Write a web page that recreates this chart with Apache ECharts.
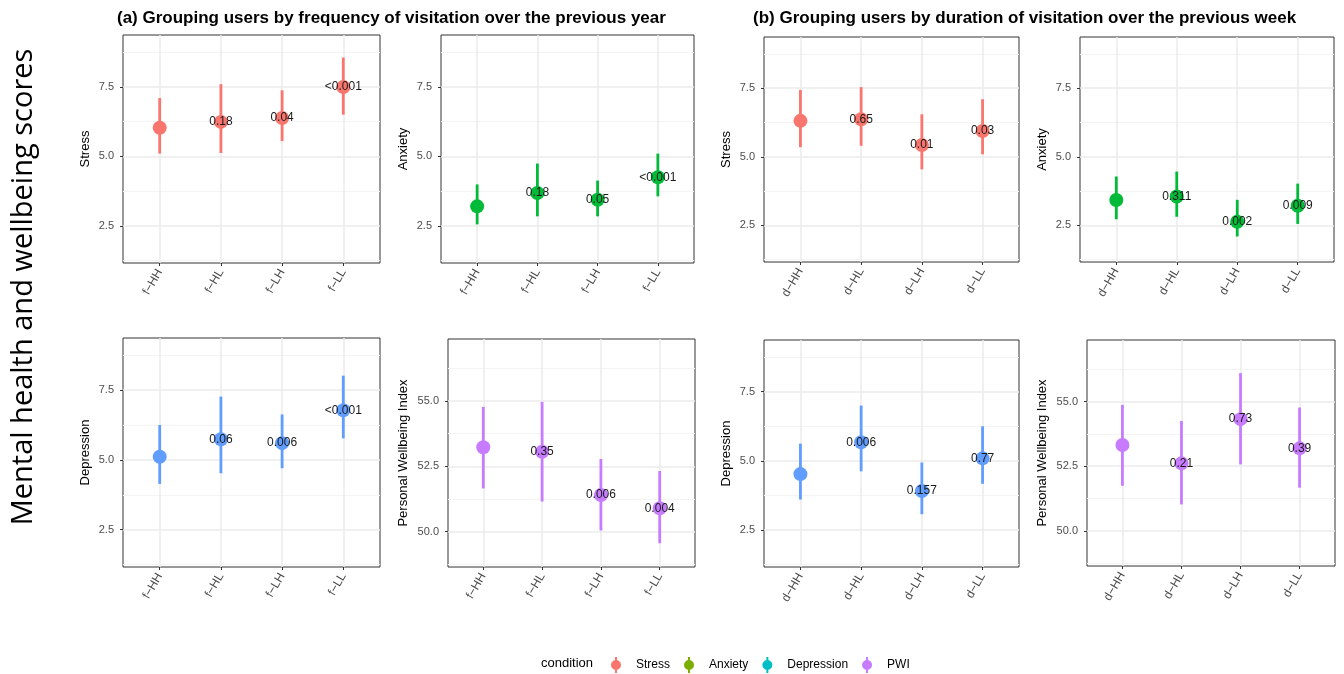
<!DOCTYPE html>
<html><head><meta charset="utf-8">
<script src="https://cdn.jsdelivr.net/npm/echarts@6/dist/echarts.min.js"></script>
<style>html,body{margin:0;padding:0;background:#fff}#c{width:1344px;height:674px}</style>
</head><body><div id="c"></div>
<script>
// ---------- data ----------
const freqCategories = ['f\u2212HH', 'f\u2212HL', 'f\u2212LH', 'f\u2212LL'];
const durCategories  = ['d\u2212HH', 'd\u2212HL', 'd\u2212LH', 'd\u2212LL'];
const conditions = ['Stress', 'Anxiety', 'Depression', 'PWI'];
const axisTitles = ['Stress', 'Anxiety', 'Depression', 'Personal Wellbeing Index'];

const freqStressMean = [6.03, 6.24, 6.38, 7.50];
const freqStressLow  = [5.10, 5.12, 5.55, 6.50];
const freqStressHigh = [7.10, 7.60, 7.38, 8.56];
const freqStressP    = ['', '0.18', '0.04', '<0.001'];

const freqAnxietyMean = [3.20, 3.68, 3.44, 4.25];
const freqAnxietyLow  = [2.55, 2.84, 2.84, 3.56];
const freqAnxietyHigh = [3.99, 4.74, 4.13, 5.10];
const freqAnxietyP    = ['', '0.18', '0.05', '<0.001'];

const freqDepressionMean = [5.11, 5.74, 5.60, 6.78];
const freqDepressionLow  = [4.14, 4.52, 4.70, 5.77];
const freqDepressionHigh = [6.25, 7.27, 6.63, 8.02];
const freqDepressionP    = ['', '0.06', '0.006', '<0.001'];

const freqPwiMean = [53.23, 53.06, 51.40, 50.89];
const freqPwiLow  = [51.65, 51.15, 50.04, 49.55];
const freqPwiHigh = [54.78, 54.97, 52.78, 52.32];
const freqPwiP    = ['', '0.35', '0.006', '0.004'];

const durStressMean = [6.31, 6.37, 5.43, 5.94];
const durStressLow  = [5.35, 5.40, 4.54, 5.09];
const durStressHigh = [7.44, 7.54, 6.55, 7.10];
const durStressP    = ['', '0.65', '0.01', '0.03'];

const durAnxietyMean = [3.42, 3.55, 2.63, 3.21];
const durAnxietyLow  = [2.72, 2.81, 2.09, 2.55];
const durAnxietyHigh = [4.28, 4.46, 3.43, 4.02];
const durAnxietyP    = ['', '0.311', '0.002', '0.009'];

const durDepressionMean = [4.52, 5.67, 3.91, 5.09];
const durDepressionLow  = [3.60, 4.62, 3.07, 4.17];
const durDepressionHigh = [5.62, 7.00, 4.94, 6.25];
const durDepressionP    = ['', '0.006', '0.157', '0.77'];

const durPwiMean = [53.32, 52.61, 54.32, 53.19];
const durPwiLow  = [51.74, 51.02, 52.57, 51.67];
const durPwiHigh = [54.87, 54.25, 56.10, 54.77];
const durPwiP    = ['', '0.21', '0.73', '0.39'];

const scoreTicks = [2.5, 5.0, 7.5];
const scoreMinorTicks = [1.25, 3.75, 6.25, 8.75];
const scoreRange = [1.16, 9.37];
const pwiTicks = [50.0, 52.5, 55.0];
const pwiMinorTicks = [48.75, 51.25, 53.75, 56.25];
const pwiRange = [48.64, 57.38];
const categoryPositions = [1, 2, 3, 4];

const panelTitleA = '(a) Grouping users by frequency of visitation over the previous year';
const panelTitleB = '(b) Grouping users by duration of visitation over the previous week';
const sideTitle = 'Mental health and wellbeing scores';
const legendTitle = 'condition';

// ---------- styling ----------
const FONT = '"Liberation Sans", Arial, Helvetica, sans-serif';
const pointColors  = ['#F8766D', '#00BA38', '#619CFF', '#C77CFF'];
const legendColors = ['#F8766D', '#7CAE00', '#00BFC4', '#C77CFF'];

const panels = [
  {cats: freqCategories, mean: freqStressMean, low: freqStressLow, high: freqStressHigh, p: freqStressP, cond: 0, box: [123, 35, 257, 228]},
  {cats: freqCategories, mean: freqAnxietyMean, low: freqAnxietyLow, high: freqAnxietyHigh, p: freqAnxietyP, cond: 1, box: [441, 35, 253, 228]},
  {cats: durCategories, mean: durStressMean, low: durStressLow, high: durStressHigh, p: durStressP, cond: 0, box: [764, 37, 255, 225]},
  {cats: durCategories, mean: durAnxietyMean, low: durAnxietyLow, high: durAnxietyHigh, p: durAnxietyP, cond: 1, box: [1080, 37, 254, 225]},
  {cats: freqCategories, mean: freqDepressionMean, low: freqDepressionLow, high: freqDepressionHigh, p: freqDepressionP, cond: 2, box: [123, 338, 257, 229]},
  {cats: freqCategories, mean: freqPwiMean, low: freqPwiLow, high: freqPwiHigh, p: freqPwiP, cond: 3, box: [448, 339, 247, 228]},
  {cats: durCategories, mean: durDepressionMean, low: durDepressionLow, high: durDepressionHigh, p: durDepressionP, cond: 2, box: [764, 340, 255, 227]},
  {cats: durCategories, mean: durPwiMean, low: durPwiLow, high: durPwiHigh, p: durPwiP, cond: 3, box: [1087, 340, 248, 226]}
];

const grid = [], xAxis = [], yAxis = [], series = [];
panels.forEach((pn, i) => {
  const isPwi = pn.cond === 3;
  const ticks = isPwi ? pwiTicks : scoreTicks;
  const minor = isPwi ? pwiMinorTicks : scoreMinorTicks;
  const range = isPwi ? pwiRange : scoreRange;
  grid.push({left: pn.box[0], top: pn.box[1], width: pn.box[2], height: pn.box[3],
    show: true, borderColor: '#333333', borderWidth: 1, backgroundColor: '#ffffff', containLabel: false});
  xAxis.push({type: 'value', gridIndex: i, min: 0.4, max: 4.6,
    axisLine: {show: false},
    axisTick: {show: true, length: 3, lineStyle: {color: '#333333'}, customValues: categoryPositions},
    axisLabel: {show: true, customValues: categoryPositions, rotate: 60, margin: 7,
      fontSize: 12, color: '#4D4D4D', fontFamily: FONT,
      formatter: v => pn.cats[Math.round(v) - 1]},
    splitLine: {show: true, lineStyle: {color: '#EBEBEB', width: 1.5}}
  });
  // major y axis
  yAxis.push({type: 'value', gridIndex: i, min: range[0], max: range[1],
    name: axisTitles[pn.cond], nameLocation: 'middle', nameGap: isPwi ? 38 : 31,
    nameTextStyle: {fontSize: 13, color: '#000', fontFamily: FONT},
    axisLine: {show: false},
    axisTick: {show: true, length: 3, lineStyle: {color: '#333333'}, customValues: ticks},
    axisLabel: {show: true, customValues: ticks, margin: 9, fontSize: 11, color: '#4D4D4D', fontFamily: FONT,
      formatter: v => Number(v).toFixed(1)},
    splitLine: {show: true, lineStyle: {color: '#EBEBEB', width: 1.5}}
  });
  // minor y axis (grid lines only)
  yAxis.push({type: 'value', gridIndex: i, min: range[0], max: range[1],
    axisLine: {show: false},
    axisTick: {show: false, customValues: minor},
    axisLabel: {show: false},
    splitLine: {show: true, lineStyle: {color: '#F4F4F4', width: 1}}
  });
  const majorY = yAxis.length - 2;
  const color = pointColors[pn.cond];
  series.push({type: 'custom', name: 'range' + i, xAxisIndex: i, yAxisIndex: majorY, z: 3, silent: true,
    data: pn.cats.map((c, k) => [categoryPositions[k], pn.low[k], pn.high[k]]),
    encode: {x: 0, y: [1, 2]},
    renderItem: (params, api) => {
      const a = api.coord([api.value(0), api.value(1)]);
      const b = api.coord([api.value(0), api.value(2)]);
      return {type: 'line', shape: {x1: a[0], y1: a[1], x2: b[0], y2: b[1]},
        style: {stroke: color, lineWidth: 2.8}};
    }
  });
  series.push({type: 'scatter', name: conditions[pn.cond], xAxisIndex: i, yAxisIndex: majorY, z: 4,
    symbol: 'circle', symbolSize: 14, itemStyle: {color: color, opacity: 1},
    data: pn.cats.map((c, k) => [categoryPositions[k], pn.mean[k], pn.p[k]]),
    label: {show: true, position: 'inside', formatter: d => d.value[2], fontSize: 12,
      color: '#1a1a1a', fontFamily: FONT},
    emphasis: {disabled: true}
  });
});

const legendIcon = 'path://M4,0h2v16h-2z M0,8a5,5 0 1,1 10,0a5,5 0 1,1 -10,0z';

const option = {
  backgroundColor: '#ffffff',
  animation: false,
  title: [
    {text: panelTitleA, left: 112, top: 5, textStyle: {fontSize: 17, fontWeight: 'bold', color: '#000', fontFamily: FONT}},
    {text: panelTitleB, left: 748, top: 5, textStyle: {fontSize: 17, fontWeight: 'bold', color: '#000', fontFamily: FONT}},
    {text: legendTitle, left: 536, top: 652, textStyle: {fontSize: 13, fontWeight: 'normal', color: '#000', fontFamily: FONT}}
  ],
  legend: {
    left: 606, top: 652, itemWidth: 30, itemHeight: 16, itemGap: 14,
    selectedMode: false,
    textStyle: {fontSize: 12, color: '#000', fontFamily: FONT},
    data: conditions.map((c, k) => ({name: c, icon: legendIcon, itemStyle: {color: legendColors[k]}}))
  },
  graphic: [{
    type: 'text', x: 24, y: 287, rotation: Math.PI / 2,
    style: {text: sideTitle, fontSize: 29, fontFamily: '"Open Sans", "Noto Sans", sans-serif',
      fill: '#000', align: 'center', verticalAlign: 'middle'}
  }],
  grid, xAxis, yAxis, series
};

const chart = echarts.init(document.getElementById('c'), null, {renderer: 'canvas'});
chart.setOption(option);
</script>
</body></html>
